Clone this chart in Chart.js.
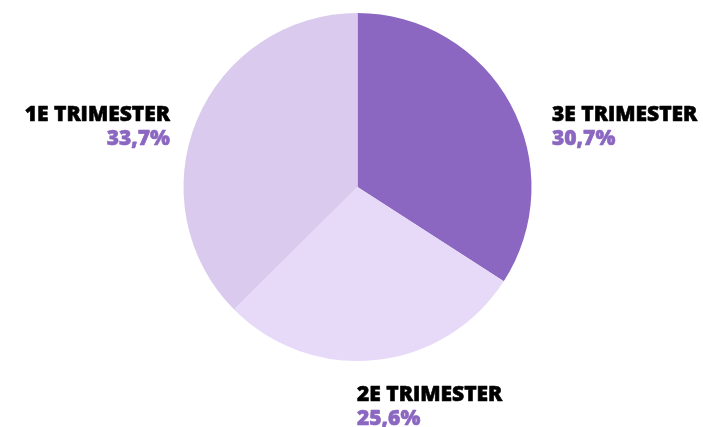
<!DOCTYPE html>
<html>
<head>
<meta charset="utf-8">
<script src="https://cdn.jsdelivr.net/npm/chart.js@4.4.0/dist/chart.umd.min.js"></script>
<style>
  html, body { margin: 0; padding: 0; background: #fff; }
  #wrap { width: 703px; height: 427px; position: relative; }
</style>
</head>
<body>
<div id="wrap"><canvas id="pieChart" width="703" height="427"></canvas></div>
<script>
// data //
const labels = ["3E TRIMESTER", "2E TRIMESTER", "1E TRIMESTER"];
const values = [30.7, 25.6, 33.7];
const valueLabels = ["30,7%", "25,6%", "33,7%"];
const colors = ["#8B67C1", "#E7DAF8", "#DACBEE"];

// where each label block sits relative to its slice
const labelAnchors = [
  { x: 552, y: 121, align: "left" },
  { x: 357, y: 401, align: "left" },
  { x: 170, y: 121, align: "right" },
];

// the original font is heavier than the installed bold, so stroke it a little
function boldText(ctx, text, x, y, color) {
  ctx.fillStyle = color;
  ctx.strokeStyle = color;
  ctx.lineWidth = 0.6;
  ctx.lineJoin = "round";
  ctx.strokeText(text, x, y);
  ctx.fillText(text, x, y);
}

const outsideLabels = {
  id: "outsideLabels",
  afterDraw(chart) {
    const ctx = chart.ctx;
    ctx.save();
    labelAnchors.forEach((a, i) => {
      ctx.textAlign = a.align;
      ctx.textBaseline = "alphabetic";
      ctx.font = "800 21px 'Open Sans'";
      boldText(ctx, labels[i], a.x, a.y, "#000");
      ctx.font = "800 21px 'Open Sans'";
      boldText(ctx, valueLabels[i], a.x, a.y + 24, "#8B67C1");
    });
    ctx.restore();
  },
};

const ctx = document.getElementById("pieChart").getContext("2d");
const pieChart = new Chart(ctx, {
  type: "pie",
  data: {
    labels: labels,
    datasets: [
      {
        data: values,
        backgroundColor: colors,
        borderWidth: 0,
      },
    ],
  },
  options: {
    responsive: false,
    animation: false,
    layout: {
      padding: { left: 183, right: 171, top: 13, bottom: 66 },
    },
    plugins: {
      legend: { display: false },
      tooltip: { enabled: false },
    },
  },
  plugins: [outsideLabels],
});
</script>
</body>
</html>
